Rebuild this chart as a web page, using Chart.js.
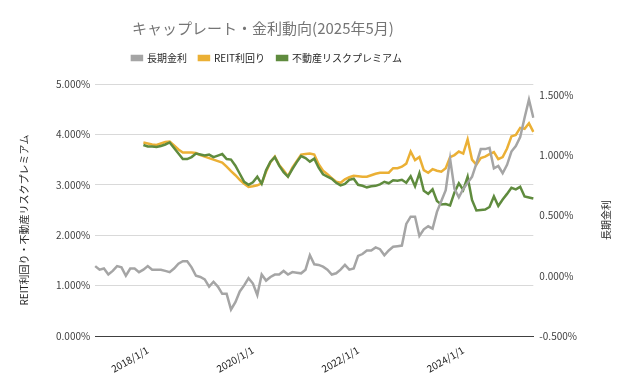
<!DOCTYPE html>
<html>
<head>
<meta charset="utf-8">
<script src="https://cdn.jsdelivr.net/npm/chart.js@4/dist/chart.umd.min.js"></script>
<style>
  body { margin: 0; background: #fff; }
  #wrap { width: 631px; height: 390px; }
</style>
</head>
<body>
<div id="wrap"><canvas id="c"></canvas></div>
<script>
// 月次ラベル 2017/1/1 〜 2025/5/1
const months = [];
for (let y = 2017; y <= 2025; y++) {
    for (let m = 1; m <= 12; m++) {
        if (y === 2025 && m > 5) break;
        months.push(y + '/' + m + '/1');
    }
}
const xTickLabels = ['2018/1/1', '2020/1/1', '2022/1/1', '2024/1/1'];
const leftTicks = [0, 1, 2, 3, 4, 5];
const rightTicks = [-0.5, 0, 0.5, 1.0, 1.5];

// 長期金利 (右軸, %)
const longRate = [
    0.08, 0.05, 0.06, 0.01, 0.04, 0.08, 0.07, 0.00, 0.06, 0.06, 0.03, 0.05,
    0.08, 0.05, 0.05, 0.05, 0.04, 0.03, 0.06, 0.10, 0.12, 0.12, 0.07, 0.00,
    -0.01, -0.03, -0.09, -0.05, -0.09, -0.15, -0.15, -0.28, -0.22, -0.13, -0.08, -0.02,
    -0.065, -0.16, 0.01, -0.04, -0.01, 0.01, 0.01, 0.04, 0.01, 0.03, 0.025, 0.02,
    0.05, 0.17, 0.095, 0.09, 0.075, 0.05, 0.01, 0.02, 0.05, 0.09, 0.05, 0.06,
    0.165, 0.18, 0.21, 0.21, 0.235, 0.22, 0.17, 0.21, 0.24, 0.245, 0.25, 0.43,
    0.49, 0.49, 0.33, 0.385, 0.41, 0.39, 0.53, 0.62, 0.71, 0.97, 0.72, 0.65,
    0.72, 0.77, 0.82, 0.93, 1.05, 1.05, 1.06, 0.89, 0.91, 0.85, 0.92, 1.03,
    1.075, 1.15, 1.31, 1.46, 1.31
];

// REIT利回り (左軸, %) 2017/12から
const reitYield = [
    null, null, null, null, null, null, null, null, null, null, null, 3.84,
    3.82, 3.80, 3.79, 3.82, 3.85, 3.86, 3.78, 3.70, 3.64, 3.64, 3.64, 3.63,
    3.59, 3.56, 3.53, 3.50, 3.47, 3.44, 3.36, 3.27, 3.19, 3.10, 3.02, 2.96,
    2.97, 2.99, 3.03, 3.26, 3.45, 3.56, 3.39, 3.29, 3.17, 3.34, 3.47, 3.60,
    3.61, 3.62, 3.60, 3.41, 3.28, 3.21, 3.13, 3.06, 3.04, 3.11, 3.15, 3.18,
    3.17, 3.16, 3.16, 3.19, 3.22, 3.24, 3.24, 3.24, 3.33, 3.33, 3.36, 3.42,
    3.66, 3.49, 3.55, 3.29, 3.24, 3.31, 3.28, 3.26, 3.33, 3.55, 3.59, 3.66,
    3.62, 3.90, 3.50, 3.40, 3.53, 3.56, 3.61, 3.65, 3.51, 3.55, 3.72, 3.96,
    3.99, 4.13, 4.11, 4.22, 4.05
];

// 不動産リスクプレミアム (左軸, %)
const riskPremium = [
    null, null, null, null, null, null, null, null, null, null, null, 3.79,
    3.76, 3.76, 3.75, 3.77, 3.80, 3.84, 3.73, 3.62, 3.51, 3.51, 3.55, 3.62,
    3.60, 3.58, 3.60, 3.55, 3.58, 3.61, 3.51, 3.50, 3.38, 3.22, 3.06, 3.00,
    3.05, 3.16, 3.02, 3.29, 3.46, 3.55, 3.38, 3.25, 3.16, 3.31, 3.45, 3.57,
    3.53, 3.46, 3.52, 3.34, 3.21, 3.16, 3.12, 3.04, 2.99, 3.02, 3.10, 3.12,
    3.00, 2.98, 2.95, 2.97, 2.98, 3.01, 3.06, 3.03, 3.09, 3.08, 3.10, 3.04,
    3.17, 2.97, 3.23, 2.88, 2.82, 2.91, 2.68, 2.61, 2.62, 2.59, 2.85, 3.03,
    2.90, 3.16, 2.70, 2.49, 2.50, 2.51, 2.56, 2.77, 2.58, 2.71, 2.82, 2.94,
    2.91, 2.96, 2.77, 2.75, 2.73
];

const leftTitle = 'REIT利回り・不動産リスクプレミアム';
const rightTitle = '長期金利';

Chart.defaults.font.family = '"Noto Sans CJK JP", "Noto Sans", sans-serif';
Chart.defaults.color = '#404040';

// タイトルと凡例は元図では左寄り
const titleShift = -54;
const legendShift = -50;

const layoutTweaks = {
    id: 'layoutTweaks',
    beforeInit: function (chart) {
        // 凡例の下に余白を足す
        const fit = chart.legend.fit;
        chart.legend.fit = function () {
            fit.bind(chart.legend)();
            this.height += 11;
        };
    },
    afterLayout: function (chart) {
        if (chart.titleBlock) {
            chart.titleBlock.left += titleShift;
            chart.titleBlock.right += titleShift;
        }
        if (chart.legend) {
            chart.legend.left += legendShift;
            chart.legend.right += legendShift;
        }
    },
    // 軸タイトルは自前で描く (右軸も下から上向きに)
    afterDraw: function (chart) {
        const { ctx, chartArea } = chart;
        const cy = (chartArea.top + chartArea.bottom) / 2 + 10;
        ctx.save();
        ctx.font = '10px "Noto Sans CJK JP"';
        ctx.fillStyle = '#262626';
        ctx.textAlign = 'center';
        ctx.textBaseline = 'middle';
        ctx.translate(24, cy);
        ctx.rotate(-Math.PI / 2);
        ctx.fillText(leftTitle, 0, 0);
        ctx.restore();
        ctx.save();
        ctx.font = '10px "Noto Sans CJK JP"';
        ctx.fillStyle = '#262626';
        ctx.textAlign = 'center';
        ctx.textBaseline = 'middle';
        ctx.translate(606, cy);
        ctx.rotate(-Math.PI / 2);
        ctx.fillText(rightTitle, 0, 0);
        ctx.restore();
    }
};

const pct = v => v.toFixed(3) + '%';

new Chart(document.getElementById('c'), {
    type: 'line',
    data: {
        labels: months,
        datasets: [
            {
                label: '長期金利',
                data: longRate,
                yAxisID: 'y1',
                borderColor: '#A5A5A5',
                backgroundColor: '#A5A5A5',
                borderWidth: 2.5,
                order: 0
            },
            {
                label: 'REIT利回り',
                data: reitYield,
                yAxisID: 'y',
                borderColor: '#EBB035',
                backgroundColor: '#EBB035',
                borderWidth: 2.5,
                order: 2
            },
            {
                label: '不動産リスクプレミアム',
                data: riskPremium,
                yAxisID: 'y',
                borderColor: '#5F8B3E',
                backgroundColor: '#5F8B3E',
                borderWidth: 2.5,
                order: 1
            }
        ]
    },
    options: {
        responsive: true,
        maintainAspectRatio: false,
        animation: false,
        elements: { point: { radius: 0 }, line: { tension: 0 } },
        layout: { padding: { left: 51, right: 48, top: 0, bottom: 15 } },
        plugins: {
            title: {
                display: true,
                text: 'キャップレート・金利動向(2025年5月)',
                color: '#757575',
                font: { size: 15, weight: 'normal' },
                padding: { top: 19, bottom: 4 }
            },
            legend: {
                position: 'top',
                labels: {
                    boxWidth: 10,
                    boxHeight: 4,
                    padding: 12,
                    color: '#262626',
                    font: { size: 10 },
                    sort: (a, b) => a.datasetIndex - b.datasetIndex
                }
            },
            tooltip: { enabled: false }
        },
        scales: {
            x: {
                type: 'category',
                offset: false,
                grid: { display: false },
                border: { display: true, color: '#404040', width: 1 },
                ticks: {
                    autoSkip: false,
                    maxRotation: 30,
                    minRotation: 30,
                    padding: 0,
                    font: { size: 10 },
                    color: '#262626',
                    callback: function (val) {
                        const lab = this.getLabelForValue(val);
                        return xTickLabels.includes(lab) ? lab : null;
                    }
                }
            },
            y: {
                position: 'left',
                min: 0,
                max: 5,
                grid: { color: '#D9D9D9', drawTicks: false },
                border: { display: false },
                afterBuildTicks: function (scale) {
                    scale.ticks = leftTicks.map(v => ({ value: v }));
                },
                ticks: { padding: 5, font: { size: 10 }, color: '#404040', callback: pct }
            },
            y1: {
                position: 'right',
                min: -0.5,
                max: 1.59,
                grid: { display: false, drawTicks: false },
                border: { display: false },
                afterBuildTicks: function (scale) {
                    scale.ticks = rightTicks.map(v => ({ value: v }));
                },
                ticks: { padding: 6, font: { size: 10 }, color: '#404040', callback: pct }
            }
        }
    },
    plugins: [layoutTweaks]
});
</script>
</body>
</html>
